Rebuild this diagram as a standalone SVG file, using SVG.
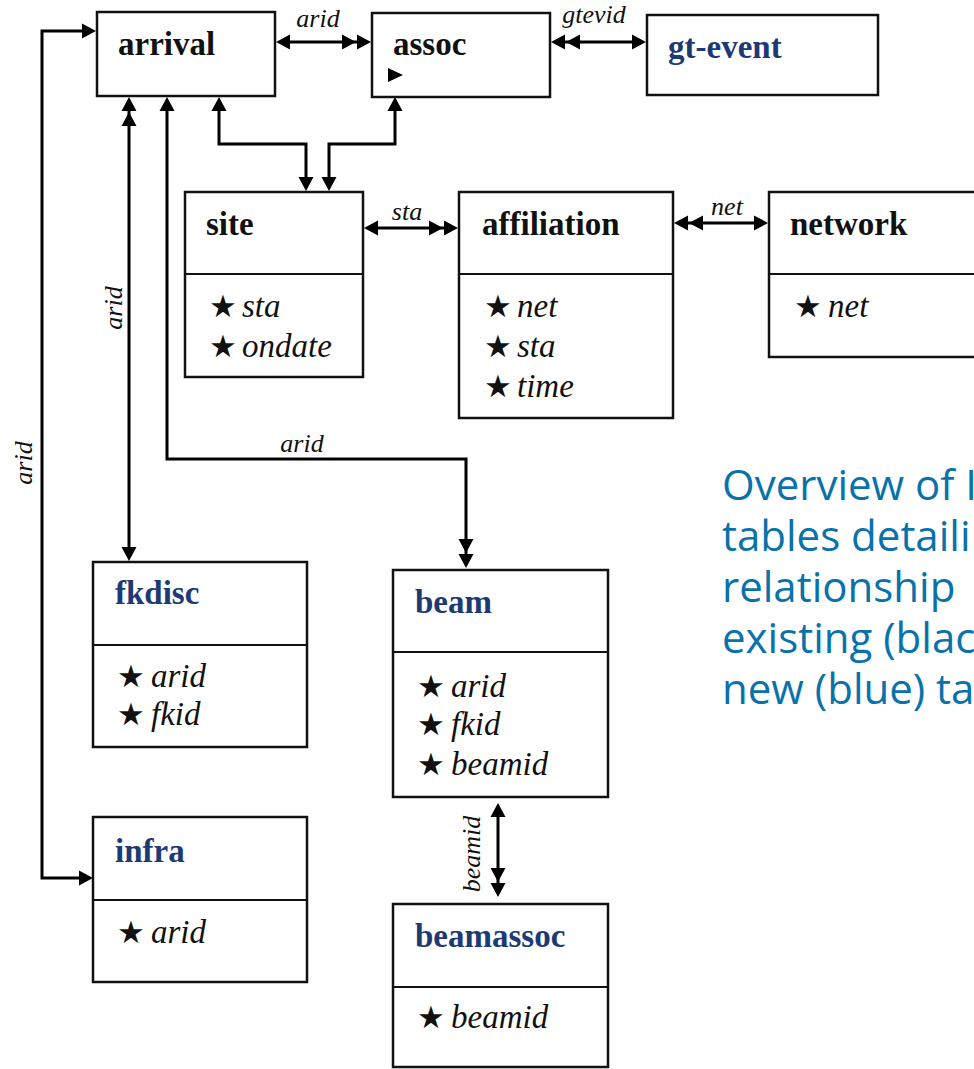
<svg xmlns="http://www.w3.org/2000/svg" width="974" height="1069" viewBox="0 0 974 1069">
<style>
.box{fill:#fff;stroke:#111;stroke-width:2.5}
.div{stroke:#111;stroke-width:2.2}
.ttl{font-family:"Liberation Serif",serif;font-weight:bold;font-size:33px;fill:#111}
.blue{fill:#1d3a74}
.itm{font-family:"Liberation Serif",serif;font-style:italic;font-size:33px;fill:#111}
.st{font-family:"DejaVu Sans",sans-serif;font-style:normal;font-size:31px}
.lbl{font-family:"Liberation Serif",serif;font-style:italic;font-size:26px;fill:#111;text-anchor:middle}
.cn{fill:none;stroke:#000;stroke-width:3}
.cap{font-family:"Open Sans",sans-serif;font-size:42px;fill:#0a72aa}
</style>
<defs>
<marker id="a1" markerUnits="userSpaceOnUse" orient="auto-start-reverse" viewBox="-20 -10 40 20" markerWidth="40" markerHeight="20" refX="9" refY="0" overflow="visible">
<path d="M0,-7.5 L14,0 L0,7.5 Z" fill="#000"/>
</marker>
<marker id="a2" markerUnits="userSpaceOnUse" orient="auto-start-reverse" viewBox="-20 -10 40 20" markerWidth="40" markerHeight="20" refX="9" refY="0" overflow="visible">
<path d="M0,-7.5 L14,0 L0,7.5 Z M-15,-7.5 L-1,0 L-15,7.5 Z" fill="#000"/>
</marker>
</defs>

<g id="connectors">
<path class="cn" d="M281,42 H366" marker-start="url(#a1)" marker-end="url(#a2)"/>
<path class="cn" d="M556,42 H641" marker-start="url(#a2)" marker-end="url(#a1)"/>
<path class="cn" d="M369,228 H453" marker-start="url(#a1)" marker-end="url(#a2)"/>
<path class="cn" d="M679,223 H763" marker-start="url(#a2)" marker-end="url(#a1)"/>
<path class="cn" d="M219,102 V144 H306 V186" marker-start="url(#a1)" marker-end="url(#a1)"/>
<path class="cn" d="M395,102 V144 H329 V186" marker-start="url(#a1)" marker-end="url(#a1)"/>
<path class="cn" d="M129,102 V556" marker-start="url(#a2)" marker-end="url(#a1)"/>
<path class="cn" d="M167,102 V459 H466 V563" marker-start="url(#a1)" marker-end="url(#a2)"/>
<path class="cn" d="M91,31 H42 V878 H88" marker-start="url(#a1)" marker-end="url(#a1)"/>
<path class="cn" d="M498,808 V892" marker-start="url(#a1)" marker-end="url(#a2)"/>
<text class="lbl" x="318" y="27">arid</text>
<text class="lbl" x="594" y="23">gtevid</text>
<text class="lbl" x="407" y="220">sta</text>
<text class="lbl" x="727" y="215">net</text>
<text class="lbl" x="302" y="452">arid</text>
<text class="lbl" transform="translate(122,308) rotate(-90)">arid</text>
<text class="lbl" transform="translate(32,463) rotate(-90)">arid</text>
<text class="lbl" transform="translate(480,854) rotate(-90)">beamid</text>
</g>

<g id="arrival">
<rect class="box" x="97" y="12" width="178" height="84"/>
<text class="ttl" x="118" y="55">arrival</text>
</g>

<g id="assoc">
<rect class="box" x="372" y="13" width="178" height="84"/>
<text class="ttl" x="393" y="55">assoc</text>
<polygon points="388,68 403,75 388,82" fill="#000"/>
</g>

<g id="gt-event">
<rect class="box" x="647" y="15" width="231" height="80"/>
<text class="ttl blue" x="668" y="58">gt-event</text>
</g>

<g id="site">
<rect class="box" x="185" y="192" width="178" height="185"/>
<line class="div" x1="185" y1="274" x2="363" y2="274"/>
<text class="ttl" x="206" y="235">site</text>
<text class="itm" y="317"><tspan class="st" x="209">★</tspan><tspan x="242">sta</tspan></text>
<text class="itm" y="357"><tspan class="st" x="209">★</tspan><tspan x="242">ondate</tspan></text>
</g>

<g id="affiliation">
<rect class="box" x="459" y="192" width="214" height="226"/>
<line class="div" x1="459" y1="274" x2="673" y2="274"/>
<text class="ttl" x="482" y="235">affiliation</text>
<text class="itm" y="317"><tspan class="st" x="484">★</tspan><tspan x="517">net</tspan></text>
<text class="itm" y="357"><tspan class="st" x="484">★</tspan><tspan x="517">sta</tspan></text>
<text class="itm" y="397"><tspan class="st" x="484">★</tspan><tspan x="517">time</tspan></text>
</g>

<g id="network">
<rect class="box" x="769" y="192" width="230" height="165"/>
<line class="div" x1="769" y1="274" x2="999" y2="274"/>
<text class="ttl" x="790" y="235">network</text>
<text class="itm" y="317"><tspan class="st" x="794">★</tspan><tspan x="828">net</tspan></text>
</g>

<g id="fkdisc">
<rect class="box" x="93" y="562" width="214" height="185"/>
<line class="div" x1="93" y1="645" x2="307" y2="645"/>
<text class="ttl blue" x="115" y="604">fkdisc</text>
<text class="itm" y="687"><tspan class="st" x="117">★</tspan><tspan x="151">arid</tspan></text>
<text class="itm" y="725"><tspan class="st" x="117">★</tspan><tspan x="151">fkid</tspan></text>
</g>

<g id="beam">
<rect class="box" x="393" y="570" width="215" height="227"/>
<line class="div" x1="393" y1="652" x2="608" y2="652"/>
<text class="ttl blue" x="415" y="613">beam</text>
<text class="itm" y="697"><tspan class="st" x="417">★</tspan><tspan x="451">arid</tspan></text>
<text class="itm" y="735"><tspan class="st" x="417">★</tspan><tspan x="451">fkid</tspan></text>
<text class="itm" y="775"><tspan class="st" x="417">★</tspan><tspan x="451">beamid</tspan></text>
</g>

<g id="infra">
<rect class="box" x="93" y="817" width="214" height="165"/>
<line class="div" x1="93" y1="900" x2="307" y2="900"/>
<text class="ttl blue" x="115" y="862">infra</text>
<text class="itm" y="943"><tspan class="st" x="117">★</tspan><tspan x="151">arid</tspan></text>
</g>

<g id="beamassoc">
<rect class="box" x="393" y="904" width="215" height="163"/>
<line class="div" x1="393" y1="987" x2="608" y2="987"/>
<text class="ttl blue" x="415" y="947">beamassoc</text>
<text class="itm" y="1028"><tspan class="st" x="417">★</tspan><tspan x="451">beamid</tspan></text>
</g>

<g id="caption">
<text class="cap"><tspan x="722" y="500">Overview of I</tspan><tspan x="722" y="551">tables detaili</tspan><tspan x="722" y="602">relationship</tspan><tspan x="722" y="653">existing (blac</tspan><tspan x="722" y="704">new (blue) ta</tspan></text>
</g>
</svg>
